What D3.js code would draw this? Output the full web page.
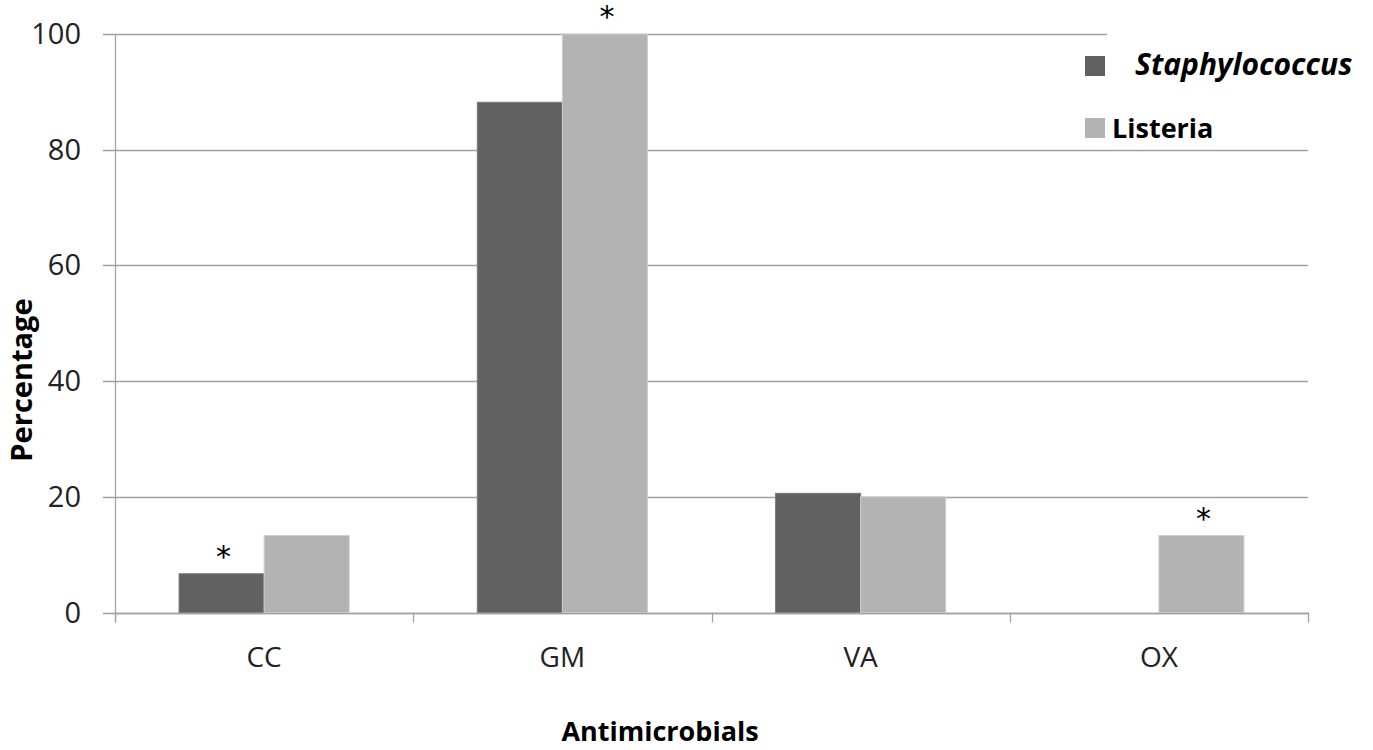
<!DOCTYPE html>
<html>
<head>
<meta charset="utf-8">
<script src="https://cdn.jsdelivr.net/npm/d3@7"></script>
<style>
  html, body { margin: 0; padding: 0; background: #fff; }
  svg { display: block; }
</style>
</head>
<body>
<svg id="chart" width="1373" height="750"></svg>
<script>
// ---- data ----
const categories = ["CC", "GM", "VA", "OX"];
const seriesNames = ["Staphylococcus", "Listeria"];
const staphylococcus = [6.7, 88.2, 20.6, 0];
const listeria = [13.3, 100, 20, 13.3];
const yTicks = [0, 20, 40, 60, 80, 100];
// significance markers: [category, series]
const asterisks = [["CC", "Staphylococcus"], ["GM", "Listeria"], ["OX", "Listeria"]];

const values = { "Staphylococcus": staphylococcus, "Listeria": listeria };
const colors = { "Staphylococcus": "#616161", "Listeria": "#b3b3b3" };
const strokes = { "Staphylococcus": "#7a7a7a", "Listeria": "#cfcfcf" };

const svg = d3.select("#chart");
const font = "'Open Sans', 'DejaVu Sans', sans-serif";

const plotLeft = 115, plotRight = 1308, plotTop = 34, plotBottom = 612.5;

const x = d3.scaleBand().domain(categories).range([plotLeft, plotRight]).paddingInner(0).paddingOuter(0);
const xs = d3.scaleBand().domain(seriesNames).range([0, x.bandwidth()]).paddingInner(0).paddingOuter(0.753);
const y = d3.scaleLinear().domain([0, 100]).range([plotBottom, plotTop]);

const gridColor = "#a2a2a2";

// gridlines + y ticks
svg.append("g")
  .selectAll("line")
  .data(yTicks)
  .join("line")
  .attr("x1", plotLeft - 12)
  .attr("x2", plotRight)
  .attr("y1", d => Math.round(y(d)) + 0.5)
  .attr("y2", d => Math.round(y(d)) + 0.5)
  .attr("stroke", gridColor)
  .attr("stroke-width", 1.3);

// y tick labels
svg.append("g")
  .selectAll("text")
  .data(yTicks)
  .join("text")
  .attr("x", 81)
  .attr("y", d => y(d) + 10)
  .attr("text-anchor", "end")
  .attr("font-family", font)
  .attr("font-size", 29)
  .attr("fill", "#222")
  .text(d => d);

// y axis line
svg.append("line")
  .attr("x1", plotLeft + 0.5).attr("x2", plotLeft + 0.5)
  .attr("y1", plotTop).attr("y2", plotBottom + 10)
  .attr("stroke", gridColor).attr("stroke-width", 1.3);

// bars
const rows = [];
categories.forEach((c, i) => seriesNames.forEach(s => rows.push({ c, s, v: values[s][i] })));

svg.append("g")
  .selectAll("rect")
  .data(rows.filter(d => d.v > 0))
  .join("rect")
  .attr("x", d => x(d.c) + xs(d.s))
  .attr("y", d => y(d.v))
  .attr("width", xs.bandwidth())
  .attr("height", d => y(0) - y(d.v))
  .attr("fill", d => colors[d.s])
  .attr("stroke", d => strokes[d.s])
  .attr("stroke-width", 1);

// x axis line
svg.append("line")
  .attr("x1", plotLeft).attr("x2", plotRight + 0.5)
  .attr("y1", Math.round(plotBottom) + 0.5).attr("y2", Math.round(plotBottom) + 0.5)
  .attr("stroke", gridColor).attr("stroke-width", 1.3);

// x ticks at band boundaries
const boundaries = categories.map(c => x(c)).concat([x(categories[categories.length - 1]) + x.bandwidth()]);
svg.append("g")
  .selectAll("line")
  .data(boundaries)
  .join("line")
  .attr("x1", d => Math.round(d) + 0.5)
  .attr("x2", d => Math.round(d) + 0.5)
  .attr("y1", plotBottom)
  .attr("y2", plotBottom + 10)
  .attr("stroke", gridColor).attr("stroke-width", 1.3);

// x tick labels
svg.append("g")
  .selectAll("text")
  .data(categories)
  .join("text")
  .attr("x", d => x(d) + x.bandwidth() / 2)
  .attr("y", 667)
  .attr("text-anchor", "middle")
  .attr("font-family", font)
  .attr("font-size", 28)
  .attr("fill", "#222")
  .text(d => d);

// asterisks
svg.append("g")
  .selectAll("text")
  .data(asterisks)
  .join("text")
  .attr("x", d => x(d[0]) + xs(d[1]) + xs.bandwidth() / 2 + 2)
  .attr("y", d => y(values[d[1]][categories.indexOf(d[0])]) - 7)
  .attr("text-anchor", "middle")
  .attr("font-family", "'DejaVu Sans', sans-serif")
  .attr("font-size", 30)
  .attr("fill", "#000")
  .text("*");

// axis titles
svg.append("text")
  .attr("transform", "translate(32,380) rotate(-90)")
  .attr("text-anchor", "middle")
  .attr("font-family", font)
  .attr("font-weight", "bold")
  .attr("font-size", 29)
  .attr("fill", "#000")
  .text("Percentage");

svg.append("text")
  .attr("x", 660)
  .attr("y", 741)
  .attr("text-anchor", "middle")
  .attr("font-family", font)
  .attr("font-weight", "bold")
  .attr("font-size", 27)
  .attr("fill", "#000")
  .text("Antimicrobials");

// legend
const legend = svg.append("g");
legend.append("rect")
  .attr("x", 1107).attr("y", 22).attr("width", 266).attr("height", 112)
  .attr("fill", "#fff");
const legendRows = [
  { s: "Staphylococcus", sq: 56, tx: 1135, ty: 75, italic: true, fs: 30 },
  { s: "Listeria", sq: 118, tx: 1112, ty: 138, italic: false, fs: 27 }
];
legend.selectAll("rect.sw")
  .data(legendRows)
  .join("rect")
  .attr("class", "sw")
  .attr("x", 1085).attr("y", d => d.sq)
  .attr("width", 20).attr("height", 20)
  .attr("fill", d => colors[d.s]);
legend.selectAll("text")
  .data(legendRows)
  .join("text")
  .attr("x", d => d.tx).attr("y", d => d.ty)
  .attr("font-family", font)
  .attr("font-weight", "bold")
  .attr("font-style", d => d.italic ? "italic" : "normal")
  .attr("font-size", d => d.fs)
  .attr("fill", "#000")
  .text(d => d.s);
</script>
</body>
</html>
